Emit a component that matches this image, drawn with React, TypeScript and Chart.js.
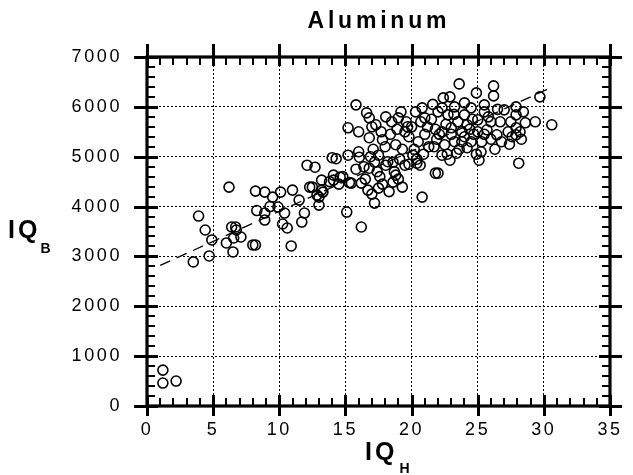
import React, { useEffect, useRef } from "react";
import { Chart, registerables } from "chart.js";

Chart.register(...registerables);

const TITLE = "Aluminum";
const X_LABEL = "IQ";
const X_SUB = "H";
const Y_LABEL = "IQ";
const Y_SUB = "B";

const X_MIN = 0;
const X_MAX = 35;
const X_STEP = 5;
const Y_MIN = 0;
const Y_MAX = 7000;
const Y_STEP = 1000;

const pointsX = [
  1.2, 1.2, 2.2,
  3.9, 4.4, 4.9, 4.7, 3.5, 6.2,
  6.4, 6.7, 6.75, 6.55, 6.0, 6.5, 7.1, 8.0, 8.2,
  8.2, 8.9, 9.5, 10.1, 11.0, 11.5, 12.3, 12.85, 13.3, 13.0,
  8.3, 8.9, 9.9, 10.4, 10.25, 10.6, 11.9, 11.7, 10.9, 8.9, 9.3,
  12.1, 12.7, 13.2, 12.5, 13.0, 13.2, 14.0, 14.3,
  14.1, 15.1, 16.2,
  15.8, 15.2, 16.6, 16.8, 17.3, 18.05, 19.0,
  15.2, 16.0, 16.05, 16.8, 17.8, 18.8, 19.5, 20.8, 21.0,
  17.2, 17.5, 18.05, 18.6, 20.1, 20.4, 20.65, 21.8, 20.8, 17.2,
  14.1, 14.6, 15.45, 16.2, 16.7, 17.5, 18.6, 19.3, 16.8, 18.8, 19.5,
  20.3, 20.7, 21.2, 21.0, 20.5, 21.5, 21.8, 20.0, 19.8, 20.2, 21.3, 21.9, 22.0, 21.6, 20.9, 19.6, 19.3, 18.9, 18.4, 18.0, 17.7, 17.1, 16.9, 17.4, 18.2,
  18.7, 19.1, 19.8, 20.4, 18.3, 17.8, 19.0, 16.4, 15.8, 15.3, 14.8, 16.5, 17.0, 17.6, 16.0, 17.0, 18.5, 19.2, 19.7,
  13.8, 14.5,
  23.6, 24.9, 26.2, 26.2, 22.4, 22.9, 29.7, 30.6, 29.35, 28.1, 22.0, 25.1, 22.9, 23.4,
  27.9, 28.45, 27.9, 27.9, 27.9, 27.3, 26.7, 26.45, 25.7, 26.0, 25.0, 25.0, 24.5, 24.2, 25.25, 23.8, 23.25, 22.5, 22.3, 23.0, 23.5, 24.0, 22.75, 22.3, 23.25, 24.0, 24.5, 25.5, 24.2, 25.5, 27.0, 27.5, 28.6, 22.3,
  23.0, 24.7, 25.3, 26.0, 26.8, 27.6, 28.2, 23.6, 24.9, 22.6, 23.8, 24.4, 25.8, 26.5, 23.2, 24.6, 22.1, 21.7, 22.7, 26.3, 25.5, 24.0, 28.3, 27.4,
];

const pointsY = [
  720, 460, 500,
  3810, 3530, 3330, 3010, 2890, 4390,
  3590, 3590, 3530, 3370, 3270, 3090, 3390, 3230, 3230,
  4310, 4290, 4190, 4290, 4330, 4130, 4390, 4230, 4290, 4030,
  3920, 3870, 3990, 3870, 3650, 3570, 3870, 3690, 3210, 3730, 4000,
  4830, 4790, 4530, 4390, 4190, 4330, 4980, 4960,
  4530, 3890, 3590,
  6040, 5580, 5880, 5780, 5640, 5800, 5780,
  5030, 5100, 4990, 5380, 5340, 5240, 5500, 5980, 5780,
  4890, 5030, 4830, 4890, 5030, 4870, 4830, 4670, 4190, 4070,
  4630, 4590, 4470, 4470, 4330, 4370, 4490, 4390, 4770, 4630, 4830,
  5900, 5700, 5600, 5450, 5300, 5750, 5550, 5600, 5400, 5150, 5200, 5350, 5900, 6050, 5050, 5700, 5150, 5550, 5450, 5200, 5500, 5150, 5000, 4700, 4900,
  4700, 4950, 4850, 4950, 4300, 4450, 4550, 4800, 4750, 4480, 4600, 4550, 4250, 4600, 5500, 5600, 5700, 5900, 5600,
  4500, 4450,
  6460, 6280, 6420, 6220, 6180, 6200, 6200, 5640, 5700, 4870, 4670, 4930, 4930, 5070,
  6000, 5900, 5840, 5580, 5440, 5500, 5700, 5440, 5540, 5700, 5740, 5500, 5300, 5180, 5100, 5300, 5300, 5240, 5500, 5580, 5700, 5840, 5840, 5980, 6000, 6080, 5980, 6040, 5640, 5900, 5940, 5700, 5680, 5030,
  5450, 5450, 5300, 5350, 5300, 5400, 5500, 5150, 5050, 5650, 5500, 5550, 5800, 5950, 5850, 5750, 5450, 5200, 5050, 5150, 5450, 5400, 5350, 5250,
];

const fitX = [1.0, 30.5];
const fitY = [2820, 6380];

const FONT = "'Liberation Sans', Arial, Helvetica, sans-serif";

const framePlugin = {
  id: "framePlugin",
  beforeDraw(chart: any) {
    chart.ctx.letterSpacing = "2.6px";
  },
  afterDraw(chart: any) {
    const ctx = chart.ctx as CanvasRenderingContext2D;
    const { left, right, top, bottom } = chart.chartArea;
    const xs = chart.scales.x;
    const ys = chart.scales.y;
    ctx.save();
    (ctx as any).letterSpacing = "0px";
    ctx.setLineDash([]);
    ctx.strokeStyle = "#000";
    ctx.lineCap = "butt";
    // minor ticks
    ctx.lineWidth = 2;
    ctx.beginPath();
    for (let v = X_MIN; v <= X_MAX; v += 1) {
      if (v % X_STEP === 0) continue;
      const px = Math.round(xs.getPixelForValue(v));
      ctx.moveTo(px, bottom);
      ctx.lineTo(px, bottom - 8);
      ctx.moveTo(px, top);
      ctx.lineTo(px, top + 8);
    }
    for (let v = Y_MIN; v <= Y_MAX; v += 200) {
      if (v % Y_STEP === 0) continue;
      const py = Math.round(ys.getPixelForValue(v));
      ctx.moveTo(left, py);
      ctx.lineTo(left + 8, py);
      ctx.moveTo(right, py);
      ctx.lineTo(right - 8, py);
    }
    ctx.stroke();
    // major ticks
    ctx.lineWidth = 3;
    ctx.beginPath();
    for (let v = X_MIN; v <= X_MAX; v += X_STEP) {
      const px = Math.round(xs.getPixelForValue(v)) + 0.5;
      ctx.moveTo(px, bottom + 10);
      ctx.lineTo(px, bottom - 11);
      ctx.moveTo(px, top - 13);
      ctx.lineTo(px, top + 9);
    }
    for (let v = Y_MIN; v <= Y_MAX; v += Y_STEP) {
      const py = Math.round(ys.getPixelForValue(v)) + 0.5;
      ctx.moveTo(left - 13, py);
      ctx.lineTo(left + 11, py);
      ctx.moveTo(right + 12, py);
      ctx.lineTo(right - 11, py);
    }
    ctx.stroke();
    // frame
    ctx.lineWidth = 3.2;
    ctx.strokeRect(left, top, right - left, bottom - top);

    // titles
    ctx.fillStyle = "#000";
    ctx.textBaseline = "alphabetic";
    ctx.textAlign = "left";
    const drawSpaced = (text: string, font: string, spacing: number, x: number, y: number, align: "left" | "center") => {
      ctx.font = font;
      (ctx as any).letterSpacing = spacing + "px";
      const w = ctx.measureText(text).width - spacing;
      const sx = align === "center" ? x - w / 2 : x;
      ctx.fillText(text, sx, y);
      return sx + w;
    };
    drawSpaced(TITLE, "bold 23px " + FONT, 3.8, 377, 28, "center");
    const xe = drawSpaced(X_LABEL, "bold 25px " + FONT, 3, 365, 460, "left");
    drawSpaced(X_SUB, "bold 14px " + FONT, 0, xe + 5, 473, "left");
    const ye = drawSpaced(Y_LABEL, "bold 25px " + FONT, 3, 8, 238, "left");
    drawSpaced(Y_SUB, "bold 14px " + FONT, 0, ye + 3, 253, "left");
    ctx.restore();
    (ctx as any).letterSpacing = "0px";
  },
};

export default function App() {
  const ref = useRef<HTMLCanvasElement | null>(null);
  useEffect(() => {
    if (!ref.current) return;
    const scatter = pointsX.map((x, i) => ({ x, y: pointsY[i] }));
    const fit = fitX.map((x, i) => ({ x, y: fitY[i] }));
    const chart = new Chart(ref.current, {
      type: "scatter",
      data: {
        datasets: [
          {
            type: "line",
            data: fit,
            borderColor: "#000",
            borderWidth: 1.3,
            borderDash: [11, 7],
            pointRadius: 0,
            fill: false,
            order: 2,
          } as any,
          {
            type: "scatter",
            data: scatter,
            pointRadius: 5,
            pointBorderWidth: 1.6,
            borderColor: "#000",
            backgroundColor: "rgba(0,0,0,0)",
            pointBackgroundColor: "rgba(0,0,0,0)",
            pointBorderColor: "#000",
            order: 1,
          },
        ],
      },
      options: {
        responsive: false,
        maintainAspectRatio: false,
        animation: false,
        devicePixelRatio: 1,
        layout: { padding: { left: 0, right: 15, top: 57, bottom: 0 } },
        plugins: {
          legend: { display: false },
          title: { display: false },
          tooltip: { enabled: false },
        },
        scales: {
          x: {
            type: "linear",
            min: X_MIN,
            max: X_MAX,
            afterFit: (s: any) => {
              s.height = 69;
            },
            ticks: {
              stepSize: X_STEP,
              color: "#000",
              padding: 13,
              maxRotation: 0,
              font: { family: FONT, size: 18 },
              callback: (v: any) => String(v),
            },
            grid: {
              color: "#000",
              lineWidth: 1,
              drawTicks: false,
            },
            border: { display: false, dash: [2, 2] },
          },
          y: {
            type: "linear",
            min: Y_MIN,
            max: Y_MAX,
            afterFit: (s: any) => {
              s.width = 147;
            },
            ticks: {
              stepSize: Y_STEP,
              color: "#000",
              padding: 25,
              font: { family: FONT, size: 18 },
              callback: (v: any) => String(v),
            },
            grid: {
              color: "#000",
              lineWidth: 1,
              drawTicks: false,
            },
            border: { display: false, dash: [2, 2] },
          },
        },
      } as any,
      plugins: [framePlugin],
    });
    return () => chart.destroy();
  }, []);
  return (
    <div style={{ position: "absolute", left: 0, top: 0, width: 633, height: 475, background: "#fff" }}>
      <canvas ref={ref} width={633} height={475} style={{ display: "block" }} />
    </div>
  );
}
